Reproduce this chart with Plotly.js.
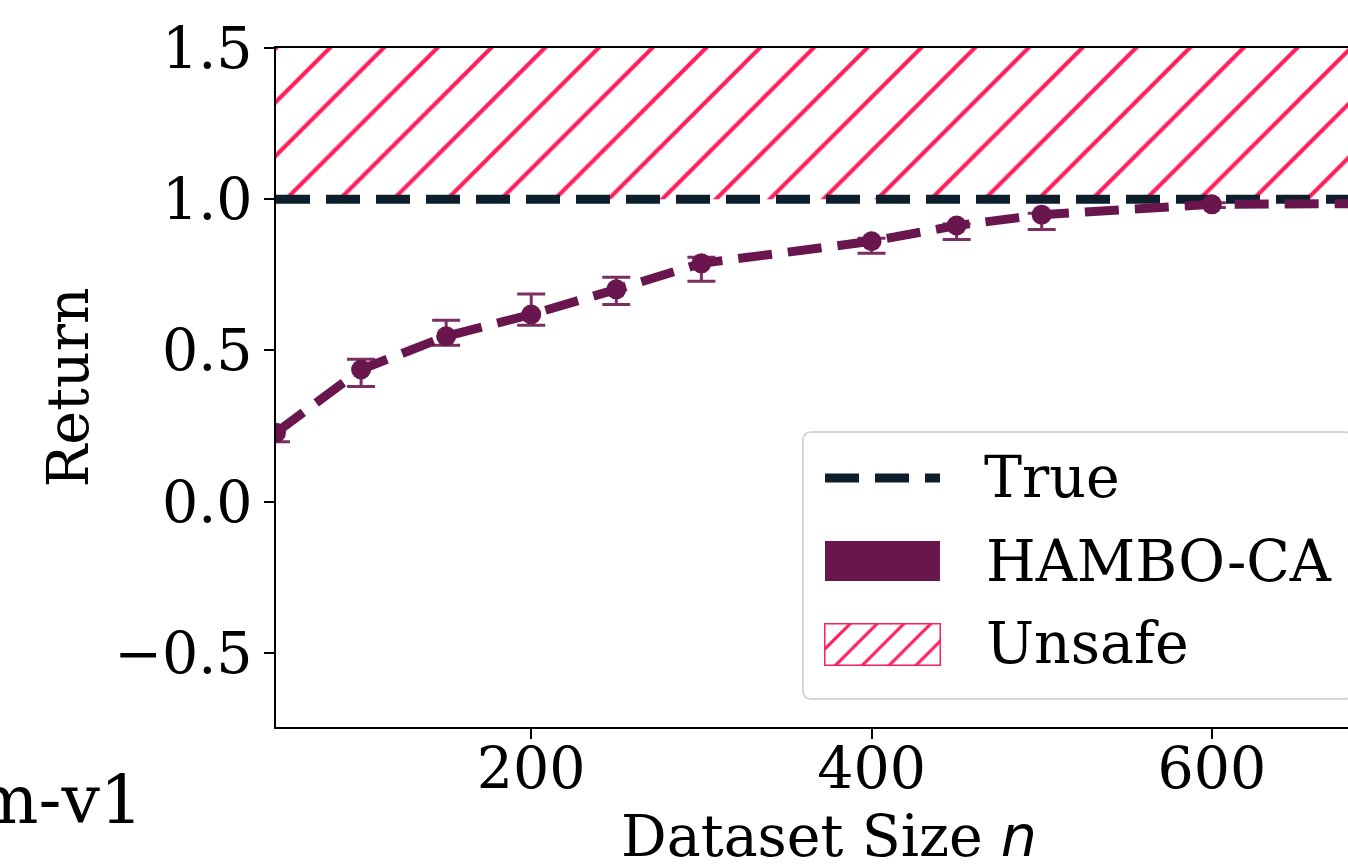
<!DOCTYPE html>
<html>
<head>
<meta charset="utf-8">
<script src="https://cdn.plot.ly/plotly-3.0.1.min.js"></script>
<style>
  html, body { margin: 0; padding: 0; overflow: hidden; background: #ffffff; }
  #chart { width: 1400px; height: 890px; }
</style>
</head>
<body>
<div id="chart"></div>
<script>
// ---- data ----
const datasetSizes = [50, 100, 150, 200, 250, 300, 400, 450, 500, 600, 700];
const hamboMean    = [0.228, 0.437, 0.547, 0.619, 0.702, 0.788, 0.861, 0.913, 0.949, 0.983, 0.986];
const hamboErrUp   = [0.020, 0.034, 0.053, 0.068, 0.040, 0.020, 0.010, 0.005, 0.005, 0.005, 0.005];
const hamboErrDown = [0.030, 0.056, 0.030, 0.036, 0.050, 0.059, 0.040, 0.046, 0.049, 0.010, 0.010];
const trueReturn = 1.0;
const unsafeLower = 1.0;
const unsafeUpper = 1.5;
const xRange = [50, 700];
const yRange = [-0.745, 1.5];
const yTicks = [-0.5, 0.0, 0.5, 1.0, 1.5];
const xTicks = [200, 400, 600];
const legendLabels = ['True', 'HAMBO-CA', 'Unsafe'];
const sideTitle = 'm-v1';

// ---- style ----
const FONT = 'DejaVu Serif, Liberation Serif, serif';
const C_TRUE = '#0d1f2d';
const C_HAMBO = '#69154e';
const C_HAMBO_ERR = '#7a2e63';
const C_UNSAFE = '#ff1f5b';

const W = 1400, H = 890, ML = 276, MR = 18, MT = 48, MB = 163;
const PW = W - ML - MR, PH = H - MT - MB;
const PX = p => (p - ML) / PW;
const PY = p => (MT + PH - p) / PH;

function roundRect(x0, y0, x1, y1, r) {
  return `M${PX(x0 + r)},${PY(y0)} L${PX(x1 - r)},${PY(y0)} Q${PX(x1)},${PY(y0)} ${PX(x1)},${PY(y0 + r)} ` +
         `L${PX(x1)},${PY(y1 - r)} Q${PX(x1)},${PY(y1)} ${PX(x1 - r)},${PY(y1)} ` +
         `L${PX(x0 + r)},${PY(y1)} Q${PX(x0)},${PY(y1)} ${PX(x0)},${PY(y1 - r)} ` +
         `L${PX(x0)},${PY(y0 + r)} Q${PX(x0)},${PY(y0)} ${PX(x0 + r)},${PY(y0)} Z`;
}

const unsafeTrace = {
  x: [xRange[0], xRange[1], xRange[1], xRange[0], xRange[0]],
  y: [unsafeLower, unsafeLower, unsafeUpper, unsafeUpper, unsafeLower],
  mode: 'lines', fill: 'toself',
  fillcolor: 'rgba(255,255,255,0)',
  line: { width: 0, color: C_UNSAFE },
  fillpattern: { shape: '/', size: 38, solidity: 0.11, fgcolor: C_UNSAFE, bgcolor: 'rgba(255,255,255,0)', fgopacity: 1 },
  hoverinfo: 'skip', showlegend: false, name: legendLabels[2]
};

const trueTrace = {
  x: xRange, y: xRange.map(() => trueReturn),
  mode: 'lines',
  line: { color: C_TRUE, width: 9, dash: '34px,16px' },
  showlegend: false, name: legendLabels[0]
};

const hamboTrace = {
  x: datasetSizes, y: hamboMean,
  mode: 'lines+markers',
  line: { color: C_HAMBO, width: 9, dash: '34px,16px' },
  marker: { color: C_HAMBO, size: 20, symbol: 'circle' },
  error_y: { type: 'data', symmetric: false, array: hamboErrUp, arrayminus: hamboErrDown,
             color: C_HAMBO_ERR, thickness: 3, width: 14 },
  showlegend: false, name: legendLabels[1]
};

// legend swatch for the hatched region, drawn on its own little axes
const swatchTrace = {
  x: [0, 1, 1, 0, 0], y: [0, 0, 1, 1, 0],
  xaxis: 'x2', yaxis: 'y2',
  mode: 'lines', fill: 'toself',
  fillcolor: 'rgba(255,255,255,0)',
  line: { width: 3, color: C_UNSAFE },
  fillpattern: { shape: '/', size: 19, solidity: 0.16, fgcolor: C_UNSAFE, bgcolor: 'rgba(255,255,255,0)', fgopacity: 1 },
  hoverinfo: 'skip', showlegend: false
};

const axisCommon = {
  showgrid: false, zeroline: false, showline: true, linecolor: '#000000', linewidth: 2,
  mirror: true, ticks: 'outside', ticklen: 10, tickwidth: 2, tickcolor: '#000000',
  tickfont: { family: FONT, size: 57, color: '#000000' }
};

const layout = {
  width: W, height: H,
  margin: { l: ML, r: MR, t: MT, b: MB, pad: 0 },
  paper_bgcolor: '#ffffff', plot_bgcolor: 'rgba(0,0,0,0)',
  showlegend: false,
  font: { family: FONT, color: '#000000' },
  xaxis: Object.assign({}, axisCommon, {
    range: xRange, tickvals: xTicks, ticktext: xTicks.map(String),
    ticklabelstandoff: -19,
    title: { text: 'Dataset Size <span style="font-family:DejaVu Sans;font-style:italic">n</span>',
             font: { family: FONT, size: 57, color: '#000000' }, standoff: 16 }
  }),
  yaxis: Object.assign({}, axisCommon, {
    range: yRange, tickvals: yTicks, tickformat: '.1f',
    title: { text: 'Return', font: { family: FONT, size: 57, color: '#000000' }, standoff: 7 }
  }),
  xaxis2: { domain: [PX(824), PX(941)], range: [0, 1], visible: false, anchor: 'y2', fixedrange: true },
  yaxis2: { domain: [PY(666), PY(623)], range: [0, 1], visible: false, anchor: 'x2', fixedrange: true },
  shapes: [
    { type: 'path', xref: 'paper', yref: 'paper', layer: 'below',
      path: roundRect(803, 432, 1353, 699, 9),
      fillcolor: 'rgba(255,255,255,0.8)', line: { color: '#d6d6d6', width: 2 } },
    { type: 'line', xref: 'paper', yref: 'paper',
      x0: PX(825), x1: PX(940), y0: PY(478), y1: PY(478),
      line: { color: C_TRUE, width: 9, dash: '34px,16px' } },
    { type: 'rect', xref: 'paper', yref: 'paper',
      x0: PX(825), x1: PX(940), y0: PY(581), y1: PY(541),
      fillcolor: C_HAMBO, line: { width: 0 } }
  ],
  annotations: [
    { text: legendLabels[0], xref: 'paper', yref: 'paper', x: PX(982), y: PY(477),
      xanchor: 'left', yanchor: 'middle', showarrow: false, font: { family: FONT, size: 57, color: '#000000' } },
    { text: legendLabels[1], xref: 'paper', yref: 'paper', x: PX(984), y: PY(561),
      xanchor: 'left', yanchor: 'middle', showarrow: false, font: { family: FONT, size: 57, color: '#000000' } },
    { text: legendLabels[2], xref: 'paper', yref: 'paper', x: PX(984), y: PY(643),
      xanchor: 'left', yanchor: 'middle', showarrow: false, font: { family: FONT, size: 57, color: '#000000' } },
    { text: sideTitle, xref: 'paper', yref: 'paper', x: PX(145), y: PY(799),
      xanchor: 'right', yanchor: 'middle', showarrow: false, font: { family: FONT, size: 68, color: '#000000' } }
  ]
};

Plotly.newPlot('chart', [unsafeTrace, trueTrace, hamboTrace, swatchTrace], layout,
  { staticPlot: true, displayModeBar: false });
</script>
</body>
</html>
